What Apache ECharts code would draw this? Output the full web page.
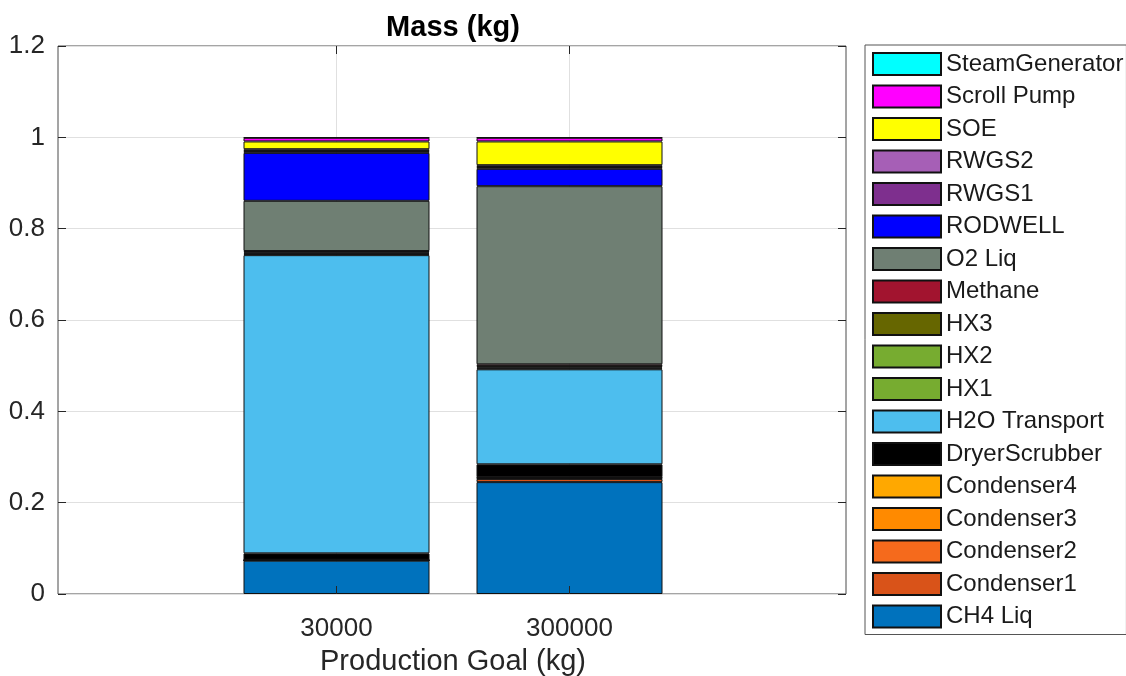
<!DOCTYPE html>
<html>
<head>
<meta charset="utf-8">
<script src="https://cdn.jsdelivr.net/npm/echarts@6/dist/echarts.min.js"></script>
<style>
  html, body { margin: 0; padding: 0; background: #ffffff; }
  #chart { width: 1126px; height: 676px; }
</style>
</head>
<body>
<div id="chart"></div>
<script>
// ---- data ----
const categories = ['30000', '300000'];
const yTicks = [0, 0.2, 0.4, 0.6, 0.8, 1, 1.2];
const seriesNames = ['CH4 Liq', 'Condenser1', 'Condenser2', 'Condenser3', 'Condenser4',
  'DryerScrubber', 'H2O Transport', 'HX1', 'HX2', 'HX3', 'Methane', 'O2 Liq',
  'RODWELL', 'RWGS1', 'RWGS2', 'SOE', 'Scroll Pump', 'SteamGenerator'];
const ch4Liq = [0.073, 0.245];
const condenser1 = [0.0005, 0.007];
const condenser2 = [0.0005, 0.0015];
const condenser3 = [0.0005, 0.0015];
const condenser4 = [0.0005, 0.001];
const dryerScrubber = [0.014, 0.028];
const h2oTransport = [0.653, 0.208];
const hx1 = [0.002, 0.002];
const hx2 = [0.002, 0.002];
const hx3 = [0.002, 0.003];
const methane = [0.003, 0.004];
const o2Liq = [0.110, 0.390];
const rodwell = [0.105, 0.038];
const rwgs1 = [0.004, 0.004];
const rwgs2 = [0.004, 0.004];
const soe = [0.017, 0.052];
const scrollPump = [0.008, 0.008];
const steamGenerator = [0.001, 0.001];

const seriesValues = [ch4Liq, condenser1, condenser2, condenser3, condenser4,
  dryerScrubber, h2oTransport, hx1, hx2, hx3, methane, o2Liq,
  rodwell, rwgs1, rwgs2, soe, scrollPump, steamGenerator];

// ---- styles ----
const seriesColors = ['#0072BD', '#D95319', '#F56A1C', '#FF8A00', '#FFA800',
  '#000000', '#4DBEEE', '#77AC30', '#77AC30', '#666600', '#A2142F', '#6F7F73',
  '#0000FF', '#7E2F8E', '#A65FB6', '#FFFF00', '#FF00FF', '#00FFFF'];

const FONT = '"Liberation Sans", Arial, Helvetica, sans-serif';
const AX = '#262626';

const chart = echarts.init(document.getElementById('chart'), null, { renderer: 'canvas' });

const series = seriesNames.map((name, i) => ({
  name: name,
  type: 'bar',
  stack: 'total',
  xAxisIndex: 1,
  yAxisIndex: 1,
  data: seriesValues[i],
  barWidth: 186,
  clip: false,
  itemStyle: { color: seriesColors[i], borderColor: '#111111', borderWidth: 1 },
  emphasis: { disabled: true }
}));

const option = {
  animation: false,
  backgroundColor: '#ffffff',
  title: {
    text: 'Mass (kg)',
    left: 453,
    top: 13,
    padding: 0,
    textAlign: 'center',
    textStyle: { fontFamily: FONT, fontSize: 29, fontWeight: 'bold', color: '#000000' }
  },
  legend: {
    orient: 'vertical',
    left: 865,
    top: 45,
    padding: [7, 3, 6, 7],
    itemWidth: 68,
    itemHeight: 22,
    itemGap: 8.5,
    icon: 'rect',
    selectedMode: false,
    borderColor: '#555555',
    borderWidth: 1,
    data: seriesNames.slice().reverse(),
    textStyle: { fontFamily: FONT, fontSize: 24, color: '#1a1a1a' }
  },
  grid: [
    { left: 58, right: 280, top: 46, bottom: 82, show: true, borderColor: '#4a4a4a', borderWidth: 1,
      backgroundColor: '#ffffff', z: 0, outerBoundsMode: 'none', containLabel: false },
    { left: 336.5, right: 556.5, top: 46, bottom: 82, outerBoundsMode: 'none', containLabel: false }
  ],
  xAxis: [
    { gridIndex: 0, type: 'value', min: 0, max: 1, show: false },
    {
      gridIndex: 1, type: 'category', data: categories, boundaryGap: false, position: 'bottom',
      axisLine: { show: false },
      axisTick: { show: true, inside: true, length: 8, lineStyle: { color: AX } },
      axisLabel: { show: true, margin: 22, fontFamily: FONT, fontSize: 26, color: AX },
      splitLine: { show: false },
      name: 'Production Goal (kg)', nameLocation: 'middle', nameGap: 53,
      nameTextStyle: { fontFamily: FONT, fontSize: 29, color: AX },
      z: 10
    },
    {
      gridIndex: 1, type: 'category', data: categories, boundaryGap: false, position: 'top',
      axisLine: { show: false },
      axisTick: { show: true, inside: true, length: 8, lineStyle: { color: AX } },
      axisLabel: { show: false },
      splitLine: { show: true, lineStyle: { color: '#e0e0e0', width: 1 } }
    }
  ],
  yAxis: [
    {
      gridIndex: 0, type: 'value', min: yTicks[0], max: yTicks[yTicks.length - 1], interval: 0.2,
      position: 'left',
      axisLine: { show: false },
      axisTick: { show: true, inside: true, length: 8, lineStyle: { color: AX } },
      axisLabel: { margin: 13, fontFamily: FONT, fontSize: 26, color: AX },
      splitLine: { show: true, lineStyle: { color: '#e0e0e0', width: 1 } }
    },
    { gridIndex: 1, type: 'value', min: 0, max: 1.2, show: false },
    {
      gridIndex: 0, type: 'value', min: 0, max: 1.2, interval: 0.2, position: 'right',
      axisLine: { show: false },
      axisTick: { show: true, inside: true, length: 8, lineStyle: { color: AX } },
      axisLabel: { show: false },
      splitLine: { show: false }
    }
  ],
  series: series
};

chart.setOption(option);
</script>
</body>
</html>
